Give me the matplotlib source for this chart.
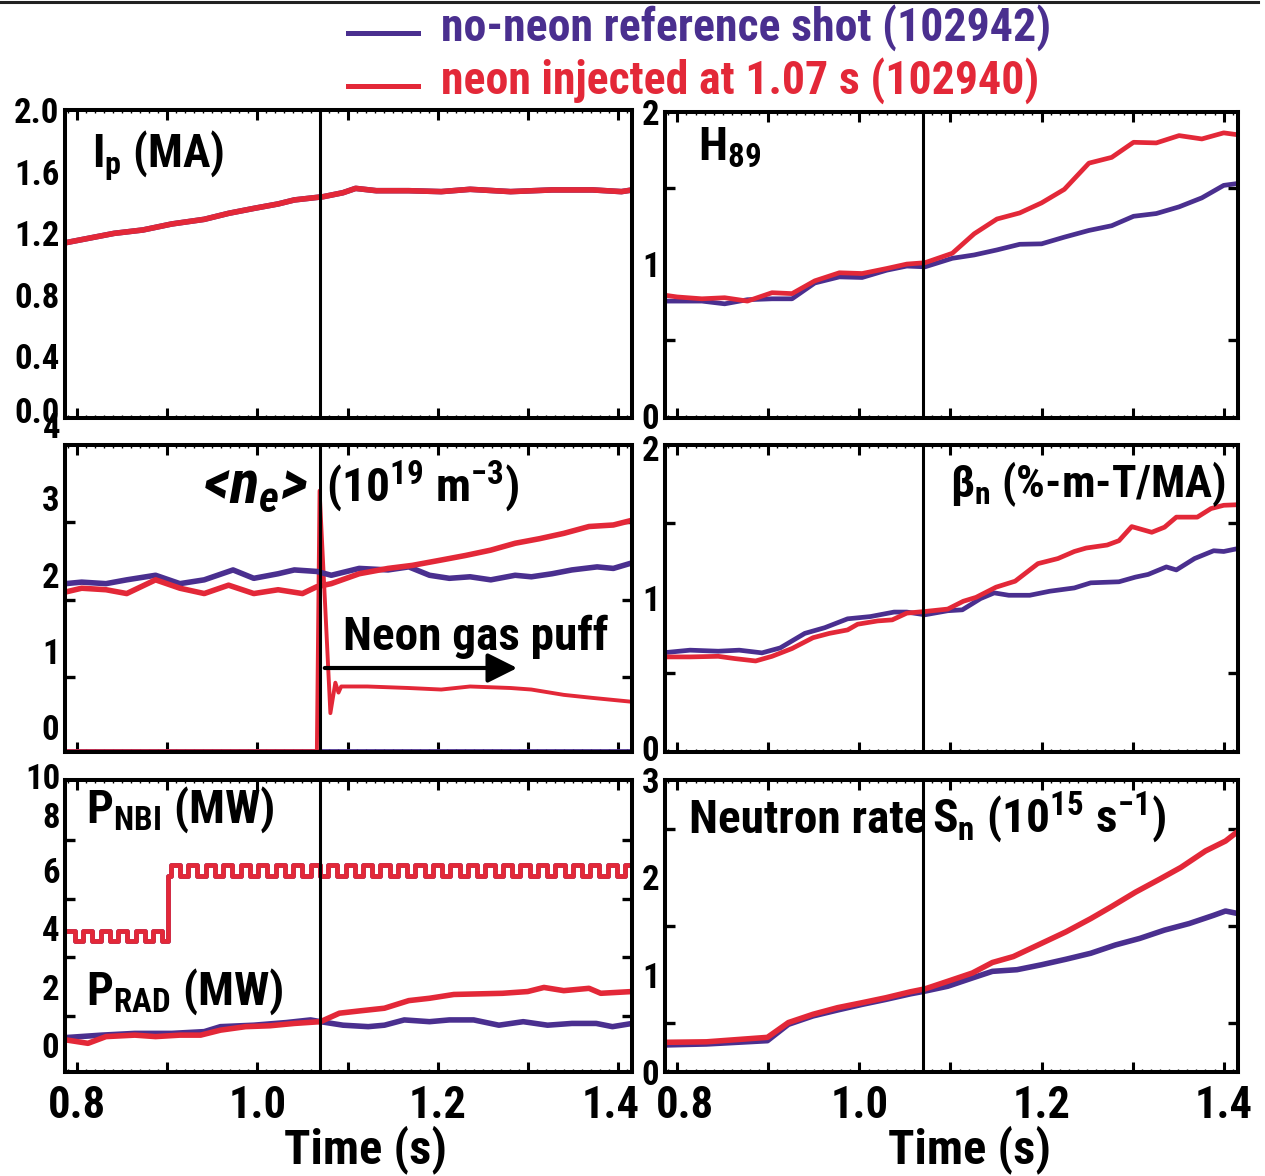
import matplotlib
matplotlib.use("Agg")
import matplotlib.pyplot as plt
import numpy as np
from matplotlib.lines import Line2D
from matplotlib.patches import FancyArrowPatch
from matplotlib.transforms import ScaledTranslation

BLUE = "#4a2f8f"
RED = "#e32838"

W_PX, H_PX = 1265, 1176

# time window shared by all panels (s) and neon injection time
T_MIN, T_MAX = 0.7865, 1.4157
T_NEON = 1.07

# plasma current I_p (MA); both shots lie on top of each other
IP_T = [0.787, 0.841, 0.873, 0.905, 0.941, 0.968, 0.996, 1.023, 1.041, 1.073, 1.095,
        1.109, 1.132, 1.168, 1.204, 1.236, 1.281, 1.327, 1.372, 1.404, 1.416]
IP_NEON = [1.138, 1.199, 1.221, 1.260, 1.290, 1.329, 1.361, 1.390, 1.416, 1.437, 1.463,
           1.491, 1.476, 1.476, 1.470, 1.485, 1.470, 1.481, 1.481, 1.470, 1.481]
IP_REF = IP_NEON

# line-averaged density <n_e> (1e19 m^-3)
NE_NEON_T = [0.787, 0.805, 0.832, 0.855, 0.887, 0.914, 0.941, 0.968, 0.996, 1.023, 1.050,
             1.066, 1.082, 1.113, 1.145, 1.172, 1.204, 1.231, 1.259, 1.286, 1.313, 1.340,
             1.368, 1.395, 1.415]
NE_NEON = [1.77, 1.82, 1.80, 1.75, 1.93, 1.82, 1.75, 1.86, 1.75, 1.80, 1.75,
           1.84, 1.88, 2.01, 2.08, 2.12, 2.19, 2.25, 2.32, 2.41, 2.47, 2.54,
           2.63, 2.65, 2.71]
NE_REF_T = [0.787, 0.805, 0.832, 0.855, 0.887, 0.914, 0.941, 0.973, 0.996, 1.023, 1.041,
            1.066, 1.082, 1.113, 1.145, 1.168, 1.191, 1.213, 1.236, 1.259, 1.286, 1.304,
            1.327, 1.349, 1.377, 1.395, 1.415]
NE_REF = [1.88, 1.90, 1.88, 1.93, 1.99, 1.88, 1.93, 2.06, 1.95, 2.01, 2.06,
          2.04, 1.99, 2.08, 2.06, 2.10, 1.99, 1.95, 1.97, 1.93, 1.99, 1.97,
          2.01, 2.06, 2.10, 2.08, 2.15]

# neon gas puff signal (same axis as <n_e>)
PUFF_NEON_T = [0.787, 1.066, 1.069, 1.081, 1.0865, 1.090, 1.093, 1.122, 1.168, 1.204,
               1.236, 1.281, 1.304, 1.340, 1.372, 1.415]
PUFF_NEON = [-0.32, -0.32, 3.10, 0.18, 0.58, 0.45, 0.53, 0.53, 0.51, 0.49,
             0.53, 0.51, 0.49, 0.42, 0.38, 0.33]
PUFF_REF_T = [0.787, 1.415]
PUFF_REF = [-0.32, -0.32]

# NBI power (MW): modulated beams, stepped up at 0.9 s
NBI_STEP_T = 0.901
NBI_LOW_ON, NBI_LOW_DIP = 3.90, 3.55
NBI_HIGH_ON, NBI_HIGH_DIP = 6.14, 5.78
NBI_PERIOD = 0.0194
NBI_FIRST_DIP = 0.7976
NBI_DIP_WIDTH = 0.0092

# radiated power P_RAD (MW)
PRAD_NEON_T = [0.789, 0.812, 0.832, 0.864, 0.887, 0.914, 0.937, 0.959, 0.987, 1.014, 1.041,
               1.070, 1.091, 1.114, 1.141, 1.168, 1.191, 1.218, 1.245, 1.272, 1.300, 1.318,
               1.340, 1.368, 1.381, 1.416]
PRAD_NEON = [0.17, 0.06, 0.29, 0.34, 0.29, 0.34, 0.34, 0.51, 0.63, 0.66, 0.74,
             0.80, 1.09, 1.17, 1.26, 1.52, 1.60, 1.73, 1.75, 1.77, 1.83, 1.97,
             1.86, 1.94, 1.77, 1.83]
PRAD_REF_T = [0.789, 0.827, 0.864, 0.905, 0.941, 0.959, 0.996, 1.032, 1.059, 1.070, 1.095,
              1.123, 1.141, 1.163, 1.191, 1.213, 1.240, 1.268, 1.295, 1.322, 1.349, 1.376,
              1.394, 1.416]
PRAD_REF = [0.26, 0.34, 0.40, 0.40, 0.46, 0.63, 0.68, 0.77, 0.86, 0.80, 0.68,
            0.63, 0.68, 0.86, 0.80, 0.86, 0.86, 0.68, 0.80, 0.68, 0.74, 0.74,
            0.63, 0.74]

# confinement factor H89
H89_NEON_T = [0.787, 0.800, 0.827, 0.852, 0.877, 0.904, 0.926, 0.951, 0.978, 1.003, 1.030,
              1.052, 1.072, 1.102, 1.126, 1.151, 1.176, 1.200, 1.225, 1.252, 1.277, 1.301,
              1.326, 1.351, 1.376, 1.400, 1.416]
H89_NEON = [0.796, 0.785, 0.773, 0.780, 0.758, 0.813, 0.807, 0.891, 0.944, 0.939, 0.972,
            1.001, 1.010, 1.072, 1.200, 1.297, 1.337, 1.403, 1.492, 1.664, 1.702, 1.801,
            1.797, 1.845, 1.823, 1.863, 1.850]
H89_REF_T = [0.787, 0.827, 0.852, 0.877, 0.904, 0.926, 0.951, 0.978, 1.003, 1.030, 1.052,
             1.072, 1.102, 1.126, 1.151, 1.176, 1.200, 1.225, 1.252, 1.277, 1.301, 1.326,
             1.351, 1.376, 1.400, 1.416]
H89_REF = [0.758, 0.758, 0.740, 0.767, 0.773, 0.773, 0.877, 0.917, 0.913, 0.961, 0.988,
           0.983, 1.039, 1.061, 1.094, 1.131, 1.134, 1.178, 1.222, 1.253, 1.315, 1.333,
           1.377, 1.436, 1.518, 1.531]

# normalised beta (%-m-T/MA)
BETA_NEON_T = [0.787, 0.814, 0.845, 0.863, 0.886, 0.904, 0.926, 0.949, 0.967, 0.987, 0.998,
               1.020, 1.036, 1.052, 1.072, 1.097, 1.114, 1.128, 1.150, 1.171, 1.196, 1.218,
               1.236, 1.249, 1.272, 1.285, 1.299, 1.321, 1.335, 1.348, 1.371, 1.386, 1.400,
               1.416]
BETA_NEON = [0.607, 0.607, 0.611, 0.596, 0.580, 0.611, 0.663, 0.735, 0.764, 0.787, 0.825,
             0.847, 0.854, 0.899, 0.910, 0.926, 0.978, 1.004, 1.072, 1.112, 1.229, 1.263,
             1.310, 1.333, 1.353, 1.382, 1.476, 1.438, 1.472, 1.539, 1.539, 1.596, 1.618,
             1.622]
BETA_REF_T = [0.787, 0.814, 0.845, 0.868, 0.893, 0.913, 0.940, 0.962, 0.987, 1.012, 1.038,
              1.052, 1.072, 1.097, 1.113, 1.133, 1.148, 1.164, 1.187, 1.209, 1.236, 1.254,
              1.285, 1.303, 1.317, 1.337, 1.348, 1.368, 1.389, 1.400, 1.416]
BETA_REF = [0.636, 0.652, 0.645, 0.652, 0.634, 0.667, 0.764, 0.802, 0.861, 0.876, 0.906,
            0.906, 0.888, 0.915, 0.921, 0.996, 1.034, 1.018, 1.018, 1.045, 1.067, 1.101,
            1.108, 1.139, 1.157, 1.207, 1.187, 1.263, 1.315, 1.310, 1.330]

# neutron rate S_n (1e15 /s)
SN_NEON_T = [0.787, 0.832, 0.899, 0.922, 0.949, 0.976, 1.003, 1.029, 1.056, 1.072, 1.097,
             1.124, 1.146, 1.169, 1.200, 1.227, 1.254, 1.276, 1.303, 1.330, 1.353, 1.380,
             1.402, 1.416]
SN_NEON = [0.305, 0.310, 0.356, 0.508, 0.593, 0.661, 0.712, 0.763, 0.824, 0.854, 0.932,
           1.017, 1.125, 1.186, 1.322, 1.441, 1.576, 1.695, 1.847, 1.983, 2.102, 2.271,
           2.373, 2.475]
SN_REF_T = [0.787, 0.832, 0.899, 0.922, 0.949, 0.976, 1.003, 1.029, 1.056, 1.072, 1.097,
            1.124, 1.146, 1.173, 1.200, 1.227, 1.254, 1.281, 1.308, 1.335, 1.362, 1.389,
            1.402, 1.416]
SN_REF = [0.278, 0.288, 0.322, 0.490, 0.576, 0.637, 0.695, 0.746, 0.803, 0.831, 0.881,
          0.966, 1.034, 1.051, 1.102, 1.159, 1.220, 1.305, 1.373, 1.458, 1.525, 1.610,
          1.654, 1.627]

LEGEND_REF = "no-neon reference shot (102942)"
LEGEND_NEON = "neon injected at 1.07 s (102940)"
X_MARKS = [0.8, 0.9, 1.0, 1.1, 1.2, 1.3, 1.4]
X_LABELS = ["0.8", "", "1.0", "", "1.2", "", "1.4"]

NARROW = "Roboto Condensed"
plt.rcParams["font.family"] = [NARROW, "PT Sans Narrow", "Liberation Sans", "DejaVu Sans"]
plt.rcParams["font.weight"] = "bold"
plt.rcParams["mathtext.fontset"] = "custom"
plt.rcParams["mathtext.rm"] = f"{NARROW}:bold"
plt.rcParams["mathtext.bf"] = f"{NARROW}:bold"
plt.rcParams["mathtext.it"] = f"{NARROW}:italic:bold"
plt.rcParams["mathtext.default"] = "rm"


def px_x(px):
    return px / W_PX


def px_y(py):
    return 1 - py / H_PX


def panel(fig, left, right, top, bottom):
    return fig.add_axes([px_x(left), px_y(bottom), (right - left) / W_PX, (bottom - top) / H_PX])


def nbi_trace():
    """Square-wave beam power, low level before the step and high level after."""
    edges = [T_MIN, NBI_STEP_T, T_MAX]
    t = NBI_FIRST_DIP
    while t < T_MAX:
        edges += [t, t + NBI_DIP_WIDTH]
        t += NBI_PERIOD
    edges = sorted(e for e in set(edges) if T_MIN <= e <= T_MAX)
    vals = []
    for a, b in zip(edges[:-1], edges[1:]):
        mid = 0.5 * (a + b)
        dip = mid > NBI_FIRST_DIP and ((mid - NBI_FIRST_DIP) % NBI_PERIOD) < NBI_DIP_WIDTH
        if mid < NBI_STEP_T:
            vals.append(NBI_LOW_DIP if dip else NBI_LOW_ON)
        else:
            vals.append(NBI_HIGH_DIP if dip else NBI_HIGH_ON)
    vals.append(vals[-1])
    return edges, vals


def style(ax, ylim, label_ticks, labels, marks, bottom_row):
    ax.set_xlim(T_MIN, T_MAX)
    ax.set_ylim(*ylim)
    for sp in ax.spines.values():
        sp.set_linewidth(2.9)
    ax.set_xticks(X_MARKS)
    ax.set_xticks(np.arange(0.79, 1.415, 0.01), minor=True)
    ax.set_xticklabels(X_LABELS if bottom_row else [""] * len(X_MARKS))
    ax.tick_params(axis="x", which="major", direction="in", length=7, width=2.2,
                   top=True, bottom=True, labelsize=32, pad=9)
    ax.tick_params(axis="x", which="minor", direction="in", length=2.2, width=1.0,
                   top=True, bottom=True)
    ax.set_yticks(label_ticks)
    ax.set_yticklabels(labels)
    ax.set_yticks(marks, minor=True)
    ax.tick_params(axis="y", which="major", length=0, pad=4, labelsize=25)
    ax.tick_params(axis="y", which="minor", direction="in", length=7.5, width=2.4,
                   left=True, right=True)
    ax.axvline(T_NEON, color="black", lw=2.2, zorder=4)


def nudge(text, dx_px=0, dy_px=0):
    text.set_transform(text.get_transform()
                       + ScaledTranslation(dx_px / 100, -dy_px / 100, fig.dpi_scale_trans))


fig = plt.figure(figsize=(W_PX / 100, H_PX / 100), dpi=100)

ax_ip = panel(fig, 65, 632, 110, 418)
ax_ne = panel(fig, 65, 632, 445, 752)
ax_pw = panel(fig, 65, 632, 780, 1072)
ax_h = panel(fig, 665, 1238, 112, 418)
ax_b = panel(fig, 665, 1238, 445, 752)
ax_sn = panel(fig, 665, 1238, 780, 1072)

LW = 3.4
LW_NOISY = 4.0

# plasma current
ax_ip.plot(IP_T, IP_REF, color=BLUE, lw=LW_NOISY)
ax_ip.plot(IP_T, IP_NEON, color=RED, lw=LW_NOISY)
style(ax_ip, (0, 2.0), [0, 0.4, 0.8, 1.2, 1.6, 2.0],
      ["0.0", "0.4", "0.8", "1.2", "1.6", "2.0"], [0.4, 0.8, 1.2, 1.6], False)

# density and neon puff
ax_ne.plot(PUFF_REF_T, PUFF_REF, color=BLUE, lw=LW)
ax_ne.plot(PUFF_NEON_T, PUFF_NEON, color=RED, lw=2.8)
ax_ne.plot(NE_REF_T, NE_REF, color=BLUE, lw=LW_NOISY)
ax_ne.plot(NE_NEON_T, NE_NEON, color=RED, lw=LW_NOISY)
style(ax_ne, (-0.33, 3.70), [0, 1, 2, 3], ["0", "1", "2", "3"], [0.66, 1.66, 2.69], False)
ax_ne.text(-0.008, 3.92, "4", transform=ax_ne.get_yaxis_transform(), ha="right",
           va="center", fontsize=25, clip_on=False)

# heating and radiated power
nbi_t, nbi_v = nbi_trace()
ax_pw.plot(nbi_t, nbi_v, color=BLUE, lw=LW, drawstyle="steps-post")
ax_pw.plot(nbi_t, nbi_v, color=RED, lw=LW, drawstyle="steps-post")
ax_pw.plot(PRAD_REF_T, PRAD_REF, color=BLUE, lw=LW_NOISY)
ax_pw.plot(PRAD_NEON_T, PRAD_NEON, color=RED, lw=LW_NOISY)
style(ax_pw, (-0.92, 9.06), [0, 2, 4, 6, 8], ["0", "2", "4", "6", "8"], [1, 3, 5, 7], True)
ax_pw.text(-0.008, 9.08, "10", transform=ax_pw.get_yaxis_transform(), ha="right",
           va="center", fontsize=25, clip_on=False)

# H89
ax_h.plot(H89_REF_T, H89_REF, color=BLUE, lw=LW)
ax_h.plot(H89_NEON_T, H89_NEON, color=RED, lw=LW)
style(ax_h, (-0.01, 2.0), [0, 1, 2], ["0", "1", "2"], [0.5, 1.0, 1.5], False)

# normalised beta
ax_b.plot(BETA_REF_T, BETA_REF, color=BLUE, lw=LW)
ax_b.plot(BETA_NEON_T, BETA_NEON, color=RED, lw=LW)
style(ax_b, (-0.027, 2.02), [0, 1, 2], ["0", "1", "2"], [0.5, 1.0, 1.5], False)

# neutron rate
ax_sn.plot(SN_REF_T, SN_REF, color=BLUE, lw=LW_NOISY)
ax_sn.plot(SN_NEON_T, SN_NEON, color=RED, lw=LW_NOISY)
style(ax_sn, (0, 2.98), [0, 1, 2, 3], ["0", "1", "2", "3"], [0.5, 1.0, 1.5, 2.0, 2.5], True)

# keep crowded tick labels apart
nudge(ax_pw.get_xticklabels()[-1], dx_px=-7)
nudge(ax_sn.get_xticklabels()[0], dx_px=8)
nudge(ax_ip.get_yticklabels()[0], dy_px=-8)
nudge(ax_pw.get_yticklabels()[-1], dy_px=4)


def label(px, py, s, size=33, **kw):
    fig.text(px_x(px), px_y(py), s, fontsize=size, va="baseline", ha="left", **kw)


label(92, 168, r"I$_\mathrm{p}$ (MA)")
label(698, 161, r"H$_\mathrm{89}$", size=34)
label(203, 502, r"<$\mathit{n}_\mathit{e}$>", size=44, style="italic")
label(326, 502, r"(10$^\mathrm{19}$ m$^\mathrm{-3}$)", size=34)
label(343, 650, "Neon gas puff", size=34)
label(950, 497, r"β$_\mathrm{n}$ (%-m-T/MA)", size=32.5)
label(86, 823, r"P$_\mathrm{NBI}$ (MW)", size=34)
label(86, 1005, r"P$_\mathrm{RAD}$ (MW)", size=34)
label(689, 833, "Neutron rate", size=34)
label(932, 833, r"S$_\mathrm{n}$ (10$^\mathrm{15}$ s$^\mathrm{-1}$)", size=34)

fig.text(px_x(365), px_y(1163), "Time (s)", fontsize=35, ha="center", va="baseline")
fig.text(px_x(970), px_y(1163), "Time (s)", fontsize=35, ha="center", va="baseline")

# neon puff arrow
fig.add_artist(FancyArrowPatch(
    (px_x(322), px_y(668)), (px_x(520), px_y(668)), transform=fig.transFigure,
    arrowstyle="-|>,head_length=12,head_width=6", color="black", lw=3.0,
    mutation_scale=1.5))

# legend
fig.add_artist(Line2D([px_x(348), px_x(418)], [px_y(33), px_y(33)], color=BLUE, lw=3.6))
fig.add_artist(Line2D([px_x(348), px_x(418)], [px_y(86), px_y(86)], color=RED, lw=3.6))
label(441, 41, LEGEND_REF, size=33, color=BLUE)
label(441, 94, LEGEND_NEON, size=33, color=RED)

# rule along the top edge
fig.add_artist(Line2D([0, px_x(1258)], [px_y(2), px_y(2)], color="#222222", lw=2.2))

fig.savefig("out.png", dpi=100)
